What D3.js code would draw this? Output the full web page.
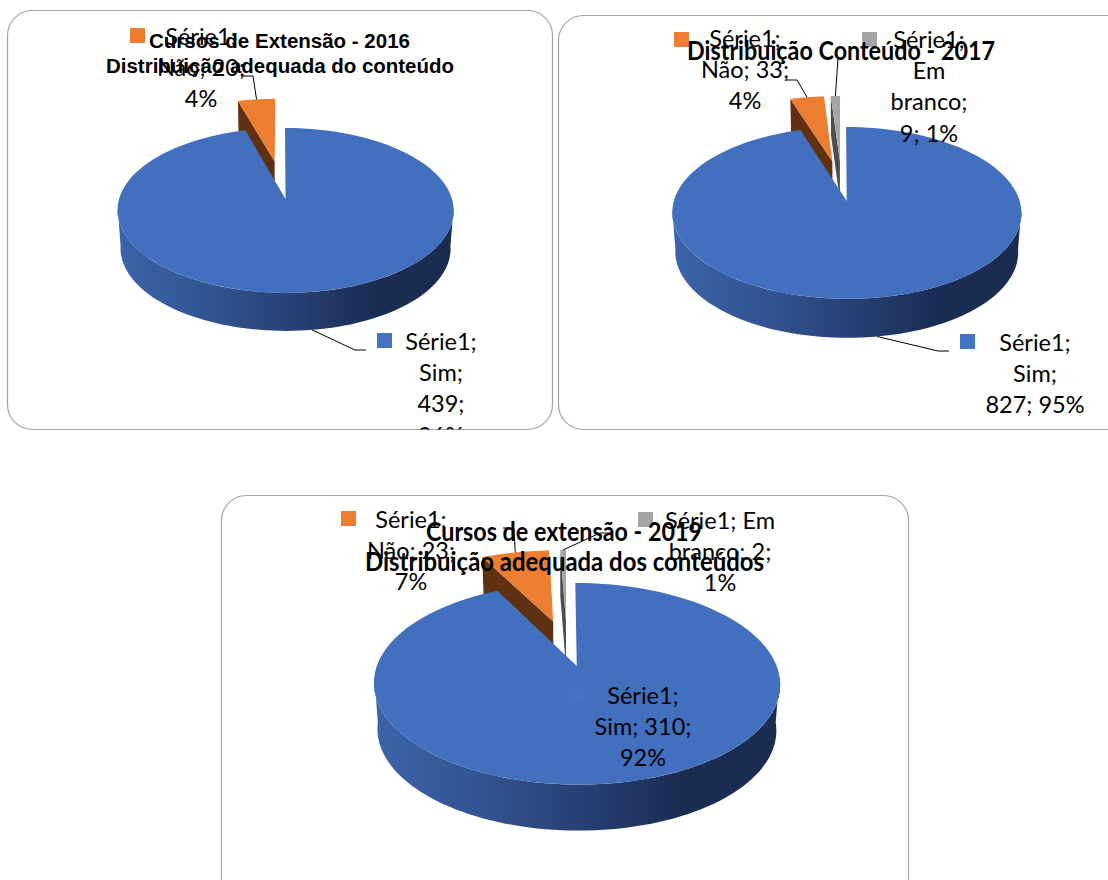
<!DOCTYPE html>
<html>
<head>
<meta charset="utf-8">
<script src="https://cdn.jsdelivr.net/npm/d3@7"></script>
<style>
    body { margin: 0; background: #fff; }
    svg { display: block; }
    text { fill: #000; }
    .label { font-family: Lato, sans-serif; font-size: 23.5px; text-anchor: middle; }
    .title { font-weight: bold; text-anchor: middle; }
</style>
</head>
<body>
<svg id="chart" width="1108" height="880"></svg>
<script>
// Values
var categories2016 = ['Sim', 'Não'];
var values2016 = [439, 20];
var percents2016 = [96, 4];

var categories2017 = ['Sim', 'Não', 'Em branco'];
var values2017 = [827, 33, 9];
var percents2017 = [95, 4, 1];

var categories2019 = ['Sim', 'Não', 'Em branco'];
var values2019 = [310, 23, 2];
var percents2019 = [92, 7, 1];

var seriesName = 'Série1';
var topColors = ['#4270bf', '#ed7d31', '#a5a5a5'];
var keyColors = ['#4472c4', '#ed7d31', '#a5a5a5'];
var cutColors = ['#1a2c50', '#5f3110', '#4d4d4d'];

// Set up the charts: frame, pie projection and where the text goes
var charts = [
    {
        id: 0,
        values: values2016,
        frame: { x: 7.5, y: 10.5, w: 545, h: 419, r: 25 },
        cx: 281, cy: 183.4, A: 162, B: 76.6, k: 0.135, depth: 38,
        explode: [0.2, 0.3],
        titleFont: 'Liberation Sans, Arial, sans-serif',
        titleSize: 20,
        titles: [
            { text: 'Cursos de Extensão - 2016', x: 279.5, y: 48, w: 261 },
            { text: 'Distribuição adequada do conteúdo', x: 280, y: 72.5, w: 348 }
        ],
        labels: [
            { slice: 0, key: [377, 333], x: 441, y: 350, lines: [seriesName + ';', categories2016[0] + ';', values2016[0] + ';', percents2016[0] + '%'] },
            { slice: 1, key: [130, 28], x: 201, y: 45, lines: [seriesName + ';', categories2016[1] + '; ' + values2016[1] + ';', percents2016[1] + '%'] }
        ],
        leaders: [
            { slice: 0, elbow: [355, 350], end: 366, side: true },
            { slice: 1, elbow: [253, 76], end: 241 }
        ]
    },
    {
        id: 1,
        values: values2017,
        frame: { x: 558.5, y: 15.5, w: 580, h: 414, r: 25 },
        cx: 841.5, cy: 184.8, A: 168.3, B: 79.8, k: 0.135, depth: 39,
        explode: [0.2, 0.31, 0.31],
        titleFont: 'Lato, sans-serif',
        titleSize: 27,
        titles: [
            { text: 'Distribuição Conteúdo - 2017', x: 841, y: 60, w: 308 }
        ],
        labels: [
            { slice: 0, key: [960, 334], x: 1035, y: 351, lines: [seriesName + ';', categories2017[0] + ';', values2017[0] + '; ' + percents2017[0] + '%'] },
            { slice: 1, key: [674, 32], x: 745, y: 47, lines: [seriesName + ';', categories2017[1] + '; ' + values2017[1] + ';', percents2017[1] + '%'] },
            { slice: 2, key: [862, 32], x: 929, y: 48, lines: [seriesName + ';', 'Em', 'branco;', values2017[2] + '; ' + percents2017[2] + '%'] }
        ],
        leaders: [
            { slice: 0, elbow: [938, 351], end: 949, side: true },
            { slice: 1, elbow: [797, 80], end: 786 },
            { slice: 2, elbow: [838, 58], end: 838.5 }
        ]
    },
    {
        id: 2,
        values: values2019,
        frame: { x: 221.5, y: 495.5, w: 687, h: 420, r: 25 },
        cx: 567, cy: 646.8, A: 193, B: 91, k: 0.17, depth: 46,
        explode: [0.21, 0.3, 0.3],
        titleFont: 'Lato, sans-serif',
        titleSize: 26,
        titles: [
            { text: 'Cursos de extensão - 2019', x: 564, y: 541, w: 276 },
            { text: 'Distribuição adequada dos conteúdos', x: 564.5, y: 571, w: 399 }
        ],
        labels: [
            { slice: 0, key: [569, 687], x: 643, y: 704, lines: [seriesName + ';', categories2019[0] + '; ' + values2019[0] + ';', percents2019[0] + '%'] },
            { slice: 1, key: [341, 511], x: 411, y: 528, lines: [seriesName + ';', categories2019[1] + '; ' + values2019[1] + ';', percents2019[1] + '%'] },
            { slice: 2, key: [638, 512], x: 720, y: 529, lines: [seriesName + '; Em', 'branco; ' + values2019[2] + ';', percents2019[2] + '%'] }
        ],
        leaders: [
            { slice: 1, elbow: [514, 528], end: 503 },
            { slice: 2, elbow: [600, 533], end: 612 }
        ]
    }
];

var svg = d3.select('#chart');
var defs = svg.append('defs');
var pie = d3.pie().sort(null).startAngle(0).endAngle(2 * Math.PI);
var line = d3.line();

// Turn a point of the unit disc into screen coordinates, with some perspective
function project(chart, u, v, lifted) {
    var w = 1 - chart.k * v;
    var x = chart.A * u / w;
    var y = chart.B * v / w;
    if (lifted) {
        return [chart.cx + x * 0.982, chart.cy + y + chart.depth];
    }
    return [chart.cx + x, chart.cy + y];
}

function offsetOf(chart, d, i) {
    var mid = (d.startAngle + d.endAngle) / 2;
    return { u: chart.explode[i] * Math.sin(mid), v: -chart.explode[i] * Math.cos(mid) };
}

function rimPoint(chart, d, i, angle, lifted) {
    var o = offsetOf(chart, d, i);
    return project(chart, o.u + Math.sin(angle), o.v - Math.cos(angle), lifted);
}

function apexPoint(chart, d, i, lifted) {
    var o = offsetOf(chart, d, i);
    return project(chart, o.u, o.v, lifted);
}

function topFace(chart, d, i) {
    var angles = d3.range(0, 121).map((n) => d.startAngle + (d.endAngle - d.startAngle) * n / 120);
    var points = angles.map((a) => rimPoint(chart, d, i, a, false));
    points.push(apexPoint(chart, d, i, false));
    return line(points) + 'Z';
}

function cutFace(chart, d, i) {
    return line([
        rimPoint(chart, d, i, d.startAngle, false),
        apexPoint(chart, d, i, false),
        apexPoint(chart, d, i, true),
        rimPoint(chart, d, i, d.startAngle, true)
    ]) + 'Z';
}

// Only the front half, between the widest points of the rim
function frontSide(chart, d, i) {
    var angles = d3.range(96, 265, 2).map((a) => a * Math.PI / 180);
    var upper = angles.map((a) => rimPoint(chart, d, i, a, false));
    var lower = angles.slice().reverse().map((a) => rimPoint(chart, d, i, a, true));
    return line(upper.concat(lower)) + 'Z';
}

charts.forEach(function(chart) {
    var slices = pie(chart.values);

    defs.append('clipPath')
        .attr('id', `frame-${chart.id}`)
        .append('rect')
        .attr('x', chart.frame.x)
        .attr('y', chart.frame.y)
        .attr('width', chart.frame.w)
        .attr('height', chart.frame.h)
        .attr('rx', chart.frame.r);

    // Dark blue shading along the front of the pie
    var gradient = defs.append('linearGradient')
        .attr('id', `side-${chart.id}`)
        .attr('gradientUnits', 'userSpaceOnUse')
        .attr('x1', chart.cx - chart.A)
        .attr('x2', chart.cx + chart.A * 1.05)
        .attr('y1', 0)
        .attr('y2', 0);
    [[0, '#3b64a9'], [0.3, '#31528f'], [0.6, '#233a6a'], [0.78, '#1a2c52'], [1, '#1a2c50']].forEach(function(s) {
        gradient.append('stop').attr('offset', s[0]).attr('stop-color', s[1]);
    });

    var frameGroup = svg.append('g');

    frameGroup.append('rect')
        .attr('x', chart.frame.x)
        .attr('y', chart.frame.y)
        .attr('width', chart.frame.w)
        .attr('height', chart.frame.h)
        .attr('rx', chart.frame.r)
        .attr('fill', '#fff')
        .attr('stroke', '#a6a6a6')
        .attr('stroke-width', 1.2);

    var chartGroup = frameGroup.append('g')
        .attr('clip-path', `url(#frame-${chart.id})`);

    // Small slices first, the big slice covers their lower part
    d3.range(slices.length - 1, 0, -1).forEach(function(i) {
        chartGroup.append('path')
            .attr('d', cutFace(chart, slices[i], i))
            .attr('fill', cutColors[i]);
        chartGroup.append('path')
            .attr('d', topFace(chart, slices[i], i))
            .attr('fill', topColors[i]);
    });

    chartGroup.append('path')
        .attr('d', frontSide(chart, slices[0], 0))
        .attr('fill', `url(#side-${chart.id})`);

    chartGroup.append('path')
        .attr('d', topFace(chart, slices[0], 0))
        .attr('fill', topColors[0]);

    // Leader lines
    chart.leaders.forEach(function(l) {
        var d = slices[l.slice];
        var mid = (d.startAngle + d.endAngle) / 2;
        chartGroup.append('path')
            .attr('d', line([rimPoint(chart, d, l.slice, mid, l.side), l.elbow, [l.end, l.elbow[1]]]))
            .attr('fill', 'none')
            .attr('stroke', '#000')
            .attr('stroke-width', 1);
    });

    // Data labels with their colour keys
    chart.labels.forEach(function(l) {
        chartGroup.append('rect')
            .attr('x', l.key[0])
            .attr('y', l.key[1])
            .attr('width', 15)
            .attr('height', 15)
            .attr('fill', keyColors[l.slice]);

        chartGroup.selectAll(null)
            .data(l.lines)
            .enter()
            .append('text')
            .classed('label', true)
            .attr('x', l.x)
            .attr('y', (d, i) => l.y + i * 31.2)
            .text((d) => d);
    });

    // Titles are drawn last, on top of the labels
    chart.titles.forEach(function(t) {
        chartGroup.append('text')
            .classed('title', true)
            .attr('x', t.x)
            .attr('y', t.y)
            .attr('font-family', chart.titleFont)
            .attr('font-size', chart.titleSize)
            .attr('textLength', t.w)
            .attr('lengthAdjust', 'spacingAndGlyphs')
            .text(t.text);
    });
});
</script>
</body>
</html>
